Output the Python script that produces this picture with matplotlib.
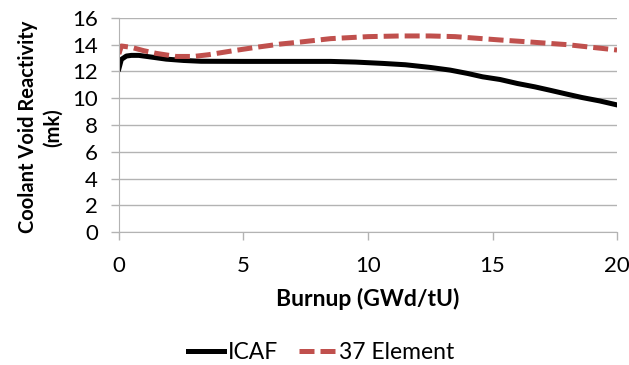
import numpy as np
import matplotlib
matplotlib.use("Agg")
from matplotlib import pyplot as plt

plt.rcParams["font.family"] = ["Lato", "DejaVu Sans"]

# Burnup (GWd/tU) and coolant void reactivity (mk)
icaf_burnup = [0.0, 0.1, 0.3, 0.5, 0.8, 1.2, 1.9, 2.6, 3.3, 5.0, 7.0, 8.5, 9.5, 10.6,
               11.5, 12.5, 13.3, 14.0, 14.6, 15.3, 16.0, 16.7, 17.3, 18.0, 18.6, 19.3, 20.0]
icaf_cvr = [12.2, 12.9, 13.15, 13.2, 13.2, 13.1, 12.92, 12.82, 12.76, 12.75, 12.75, 12.75,
            12.7, 12.6, 12.5, 12.3, 12.1, 11.85, 11.6, 11.4, 11.1, 10.85, 10.6, 10.3,
            10.05, 9.8, 9.5]

elem37_burnup = [0.0, 0.1, 0.5, 1.0, 1.5, 2.3, 3.0, 3.6, 4.6, 5.5, 6.5, 7.3, 8.5,
                 10.0, 11.3, 12.5, 13.5, 15.3, 16.5, 18.0, 19.0, 20.0]
elem37_cvr = [13.3, 13.9, 13.8, 13.55, 13.35, 13.12, 13.12, 13.25, 13.55, 13.8, 14.05,
              14.2, 14.45, 14.6, 14.65, 14.65, 14.6, 14.35, 14.2, 14.0, 13.8, 13.6]

fig = plt.figure(figsize=(6.29, 3.65), dpi=100)
ax = fig.add_axes([0.189, 0.364, 0.792, 0.587])

ax.plot(icaf_burnup, icaf_cvr, color="black", linewidth=3.6, label="ICAF")
ax.plot(elem37_burnup, elem37_cvr, color="#c0504d", linewidth=3.6, label="37 Element",
        dashes=(3.0, 1.2))

ax.set_xlim(0, 20)
ax.set_ylim(0, 16)
ax.set_xticks([0, 5, 10, 15, 20])
ax.set_yticks(np.arange(0, 17, 2))
ax.grid(axis="y", color="#b3b3b3", linewidth=1)
ax.set_axisbelow(True)

for side in ["top", "right"]:
    ax.spines[side].set_visible(False)
for side in ["left", "bottom"]:
    ax.spines[side].set_color("#b3b3b3")
ax.tick_params(colors="#b3b3b3", labelcolor="black", labelsize=16, length=6, width=1)
ax.tick_params(axis="x", pad=11)
ax.tick_params(axis="y", pad=9)

ax.set_xlabel("Burnup (GWd/tU)", fontsize=16.5, fontweight="bold")
ax.xaxis.set_label_coords(0.5, -0.26)
ax.set_ylabel("Coolant Void Reactivity\n(mk)", fontsize=14.5, fontweight="bold",
              linespacing=1.3)
ax.yaxis.set_label_coords(-0.112, 0.49)

fig.legend(loc="center", bbox_to_anchor=(0.51, 0.035), ncol=2, frameon=False,
           fontsize=16.5, handlelength=1.6, handletextpad=0.15, columnspacing=0.9)

fig.savefig("out.png", dpi=100)
